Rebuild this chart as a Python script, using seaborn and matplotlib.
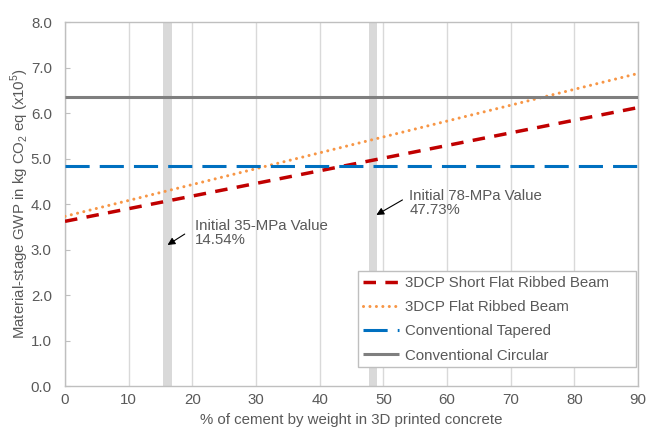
import matplotlib
matplotlib.use("Agg")
import matplotlib.pyplot as plt
import seaborn as sns
import pandas as pd

# Cement share (% by weight) at the two ends of each trend line
cement_pct = [0, 90]

# Material-stage GWP (x10^5 kg CO2 eq)
short_flat_ribbed = [3.62, 6.12]
flat_ribbed = [3.73, 6.87]
conventional_tapered = [4.84, 4.84]
conventional_circular = [6.36, 6.36]

series_names = [
    "3DCP Short Flat Ribbed Beam",
    "3DCP Flat Ribbed Beam",
    "Conventional Tapered",
    "Conventional Circular",
]

# Reference mixes marked with shaded columns
band_centers = [16.1, 48.35]
band_labels = ["Initial 35-MPa Value\n14.54%", "Initial 78-MPa Value\n47.73%"]

x_ticks = [0, 10, 20, 30, 40, 50, 60, 70, 80, 90]
y_ticks = [0, 1, 2, 3, 4, 5, 6, 7, 8]

sns.set_theme(style="white")
plt.rcParams["font.family"] = ["Liberation Sans", "DejaVu Sans"]
plt.rcParams["mathtext.fontset"] = "custom"
plt.rcParams["mathtext.rm"] = "Liberation Sans"

text_color = "#595959"
axis_gray = "#BFBFBF"
fs = 10.8

fig = plt.figure(figsize=(6.49, 4.33), dpi=100)
ax = fig.add_axes([0.1002, 0.1085, 0.8829, 0.8406])

df = pd.DataFrame({
    "x": cement_pct * 4,
    "y": short_flat_ribbed + flat_ribbed + conventional_tapered + conventional_circular,
    "series": sum([[n] * 2 for n in series_names], []),
})

styles = {
    series_names[0]: dict(color="#C00000", lw=2.5, ls=(0, (3.6, 2.7)), cap="butt"),
    series_names[1]: dict(color="#F79646", lw=2.2, ls=(0, (0.01, 2.1)), cap="round"),
    series_names[2]: dict(color="#0070C0", lw=2.2, ls=(0, (7.9, 3.3)), cap="butt"),
    series_names[3]: dict(color="#7F7F7F", lw=2.2, ls="-", cap="butt"),
}

# Shaded reference columns
for c in band_centers:
    ax.axvspan(c - 0.65, c + 0.65, color="#D9D9D9", lw=0, zorder=1)

for name in series_names:
    st = styles[name]
    sub = df[df["series"] == name]
    n_before = len(ax.lines)
    sns.lineplot(data=sub, x="x", y="y", ax=ax, color=st["color"], lw=st["lw"],
                 linestyle=st["ls"], label=name, zorder=3)
    for ln in ax.lines[n_before:]:
        ln.set_dash_capstyle(st["cap"])
        ln.set_solid_capstyle("butt")

# Annotations pointing to the reference columns
arrow_kw = dict(arrowstyle="-|>", color="black", lw=0.8, mutation_scale=11,
                shrinkA=0, shrinkB=0)
ax.annotate("", xy=(band_centers[0], 3.10), xytext=(band_centers[0] + 2.7, 3.34),
            arrowprops=arrow_kw, zorder=4)
ax.text(band_centers[0] + 4.3, 3.36, band_labels[0], ha="left", va="center",
        fontsize=fs, color=text_color, linespacing=1.05, zorder=4)
ax.annotate("", xy=(band_centers[1] + 0.55, 3.76), xytext=(band_centers[1] + 4.65, 4.09),
            arrowprops=arrow_kw, zorder=4)
ax.text(band_centers[1] + 5.7, 4.02, band_labels[1], ha="left", va="center",
        fontsize=fs, color=text_color, linespacing=1.05, zorder=4)

ax.set_xlim(0, 90)
ax.set_ylim(0, 8)
ax.set_xticks(x_ticks)
ax.set_yticks(y_ticks)
ax.set_yticklabels([f"{v:.1f}" for v in y_ticks])
ax.xaxis.grid(True, color="#D9D9D9", lw=1.0, zorder=0)
ax.yaxis.grid(False)
ax.set_axisbelow(True)

for s in ax.spines.values():
    s.set_visible(True)
    s.set_color(axis_gray)
    s.set_linewidth(1.0)

ax.tick_params(axis="x", length=0, pad=5, labelsize=fs, labelcolor=text_color)
ax.tick_params(axis="y", direction="in", length=3.5, width=0.8, color=axis_gray,
               pad=9.5, labelsize=fs, labelcolor=text_color, left=True)

ax.set_xlabel("% of cement by weight in 3D printed concrete", fontsize=fs,
              color=text_color, labelpad=4)
ax.set_ylabel(r"Material-stage GWP in kg CO$_\mathregular{2}$ eq (x10$^\mathregular{5}$)",
              fontsize=fs, color=text_color, labelpad=-0.5)

leg = ax.legend(loc="lower left", bbox_to_anchor=(0.5113, 0.052, 0.4852, 0.258),
                mode="expand", borderaxespad=0,
                fontsize=fs, frameon=True, fancybox=False, framealpha=1,
                edgecolor=axis_gray, handlelength=2.4, handletextpad=0.4,
                labelspacing=0.68, borderpad=0.3)
leg.get_frame().set_linewidth(1.0)
for t in leg.get_texts():
    t.set_color(text_color)

fig.savefig("out.png", dpi=100)
